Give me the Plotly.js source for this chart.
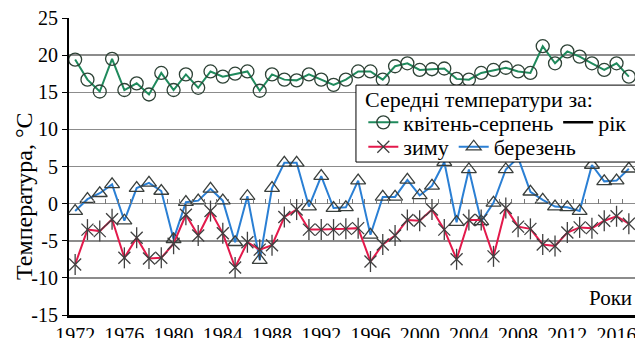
<!DOCTYPE html>
<html>
<head>
<meta charset="utf-8">
<script src="https://cdn.plot.ly/plotly-3.0.1.min.js"></script>
<style>html,body{margin:0;padding:0;background:#fff;}#chart{width:635px;height:338px;}</style>
</head>
<body>
<div id="chart"></div>
<script>
const years = [1972,1973,1974,1975,1976,1977,1978,1979,1980,1981,1982,1983,1984,1985,1986,1987,1988,1989,1990,1991,1992,1993,1994,1995,1996,1997,1998,1999,2000,2001,2002,2003,2004,2005,2006,2007,2008,2009,2010,2011,2012,2013,2014,2015,2016,2017];
const aprAug = [19.4,16.7,15.1,19.5,15.3,16.2,14.7,17.6,15.3,17.4,15.6,17.8,17.1,17.5,17.8,15.2,17.4,16.7,16.6,17.4,16.7,16.0,16.7,17.8,17.8,16.7,18.5,18.9,18.0,18.1,18.2,16.8,16.7,17.6,18.0,18.3,17.8,17.6,21.2,18.9,20.5,19.8,18.9,18.0,18.9,17.1];
const winter = [-8.2,-3.5,-3.7,-2.1,-7.3,-4.6,-7.4,-7.3,-5.4,-1.5,-4.3,-1.0,-4.0,-8.6,-5.2,-6.2,-5.6,-1.8,-0.8,-3.5,-3.5,-3.5,-3.4,-3.3,-7.8,-5.5,-4.3,-2.2,-2.3,-0.8,-3.5,-7.5,-2.2,-2.2,-7.1,-0.6,-3.1,-3.4,-5.5,-5.7,-3.9,-3.2,-3.3,-2.3,-1.7,-2.7];
const march = [-1.0,0.6,1.4,2.6,-2.3,2.1,2.8,1.7,-4.8,0.2,0.4,2.0,0.4,-5.2,1.0,-7.6,2.1,5.5,5.5,-0.4,3.7,-0.6,-0.5,3.1,-4.2,0.9,0.9,3.2,1.1,2.4,5.6,-2.5,4.6,-2.4,0.1,4.6,6.2,1.6,0.5,-0.4,-0.5,-1.0,5.2,3.0,3.1,4.7];
const yearTickVals = [1972,1976,1980,1984,1988,1992,1996,2000,2004,2008,2012,2016];
const yearTickText = ['1972','1976','1980','1984','1988','1992','1996','2000','2004','2008','2012','2016'];
const yTickVals = [-15,-10,-5,0,5,10,15,20,25];
const yTickText = ['-15','-10','-5','0','5','10','15','20','25'];
const minorTickVals = years.slice(0, -1).map(function(y){ return y + 0.5; });

const names = {
  aprAug: 'квітень-серпень',
  annual: 'рік',
  winter: 'зиму',
  march: 'березень',
  legendTitle: 'Середні температури за:',
  yTitle: 'Температура, °C',
  xTitle: 'Роки'
};

const SERIF = 'Liberation Serif';
const LEGEND_FONT = {family: SERIF, size: 22, color: '#000'};

const traces = [
  {
    x: years, y: aprAug, name: names.aprAug, type: 'scatter', mode: 'lines+markers',
    line: {color: '#1f8a5c', width: 2},
    marker: {symbol: 'circle-open', size: 13, color: '#2e4236', line: {width: 1.3, color: '#2e4236'}},
    legend: 'legend'
  },
  {
    x: [null], y: [null], name: names.annual, type: 'scatter', mode: 'lines',
    line: {color: '#000', width: 2.5},
    legend: 'legend'
  },
  {
    x: years, y: march, name: names.march, type: 'scatter', mode: 'lines+markers',
    line: {color: '#2a7fd4', width: 2},
    marker: {symbol: 'triangle-up-open', size: 13, color: '#3a3f3c', line: {width: 1.3, color: '#3a3f3c'}},
    legend: 'legend2', legendrank: 2
  },
  {
    x: years, y: winter, name: names.winter, type: 'scatter', mode: 'lines+markers',
    line: {color: '#e3194b', width: 2},
    marker: {symbol: 'x-thin-open', size: 12, color: '#404040', line: {width: 1.3, color: '#404040'}},
    legend: 'legend2', legendgroup: 'w', legendrank: 1
  },
  {
    x: years, y: winter, name: names.winter, type: 'scatter', mode: 'markers',
    marker: {symbol: 'line-ns-open', size: 15, color: '#404040', line: {width: 1.3, color: '#404040'}},
    legend: 'legend2', legendgroup: 'w', showlegend: false
  },
  {
    x: minorTickVals, y: minorTickVals.map(function(){ return null; }), xaxis: 'x2', type: 'scatter',
    mode: 'markers', showlegend: false, hoverinfo: 'skip'
  }
];

const layout = {
  width: 635, height: 338,
  margin: {l: 69, r: 0, t: 18, b: 23, pad: 0, autoexpand: false},
  paper_bgcolor: '#fff', plot_bgcolor: '#fff',
  font: {family: SERIF, size: 20, color: '#000'},
  showlegend: true,
  xaxis: {
    range: [1971.5, 2017.5], tickmode: 'array', tickvals: yearTickVals, ticktext: yearTickText,
    showgrid: false, zeroline: false, showline: true, linecolor: '#000', linewidth: 2.5,
    ticks: '', tickangle: 0, automargin: false, ticklabeloverflow: 'allow',
    tickfont: {family: SERIF, size: 20, color: '#000'}
  },
  xaxis2: {
    overlaying: 'x', anchor: 'free', position: 0.375, side: 'bottom',
    range: [1971.5, 2017.5], tickmode: 'array', tickvals: minorTickVals,
    showticklabels: false, ticks: 'inside', ticklen: 5, tickwidth: 1, tickcolor: '#777',
    showgrid: false, zeroline: false, showline: false
  },
  yaxis: {
    range: [-15, 25], tickmode: 'array', tickvals: yTickVals, ticktext: yTickText,
    showgrid: true, gridcolor: '#8c8c8c', gridwidth: 1.5, zeroline: false, automargin: false,
    showline: true, linecolor: '#000', linewidth: 2, ticks: 'outside', ticklen: 5, tickcolor: '#000',
    tickfont: {family: SERIF, size: 20, color: '#000'}
  },
  legend: {
    orientation: 'h', x: 0.52, xanchor: 'left', y: 0.648, yanchor: 'middle',
    bgcolor: 'rgba(0,0,0,0)', borderwidth: 0, font: LEGEND_FONT,
    itemwidth: 30, traceorder: 'normal'
  },
  legend2: {
    orientation: 'h', x: 0.52, xanchor: 'left', y: 0.566, yanchor: 'middle',
    bgcolor: 'rgba(0,0,0,0)', borderwidth: 0, font: LEGEND_FONT,
    itemwidth: 30, traceorder: 'normal'
  },
  shapes: [{
    type: 'rect', xref: 'paper', yref: 'paper', layer: 'above',
    x0: 0.507, x1: 1.02, y0: 0.515, y1: 0.774,
    fillcolor: '#fff', line: {color: '#000', width: 1}
  }],
  annotations: [
    {text: names.legendTitle, xref: 'paper', yref: 'paper', x: 0.519, y: 0.727, xanchor: 'left', yanchor: 'middle',
     showarrow: false, font: LEGEND_FONT},
    {text: names.yTitle, xref: 'paper', yref: 'paper', x: -0.08, y: 0.4, xanchor: 'center', yanchor: 'middle',
     textangle: -90, showarrow: false, font: {family: SERIF, size: 24, color: '#000'}},
    {text: names.xTitle, xref: 'paper', yref: 'paper', x: 0.998, y: 0.01, xanchor: 'right', yanchor: 'bottom',
     showarrow: false, font: {family: SERIF, size: 21, color: '#000'}}
  ]
};

Plotly.newPlot('chart', traces, layout, {staticPlot: true, displayModeBar: false});
</script>
</body>
</html>
